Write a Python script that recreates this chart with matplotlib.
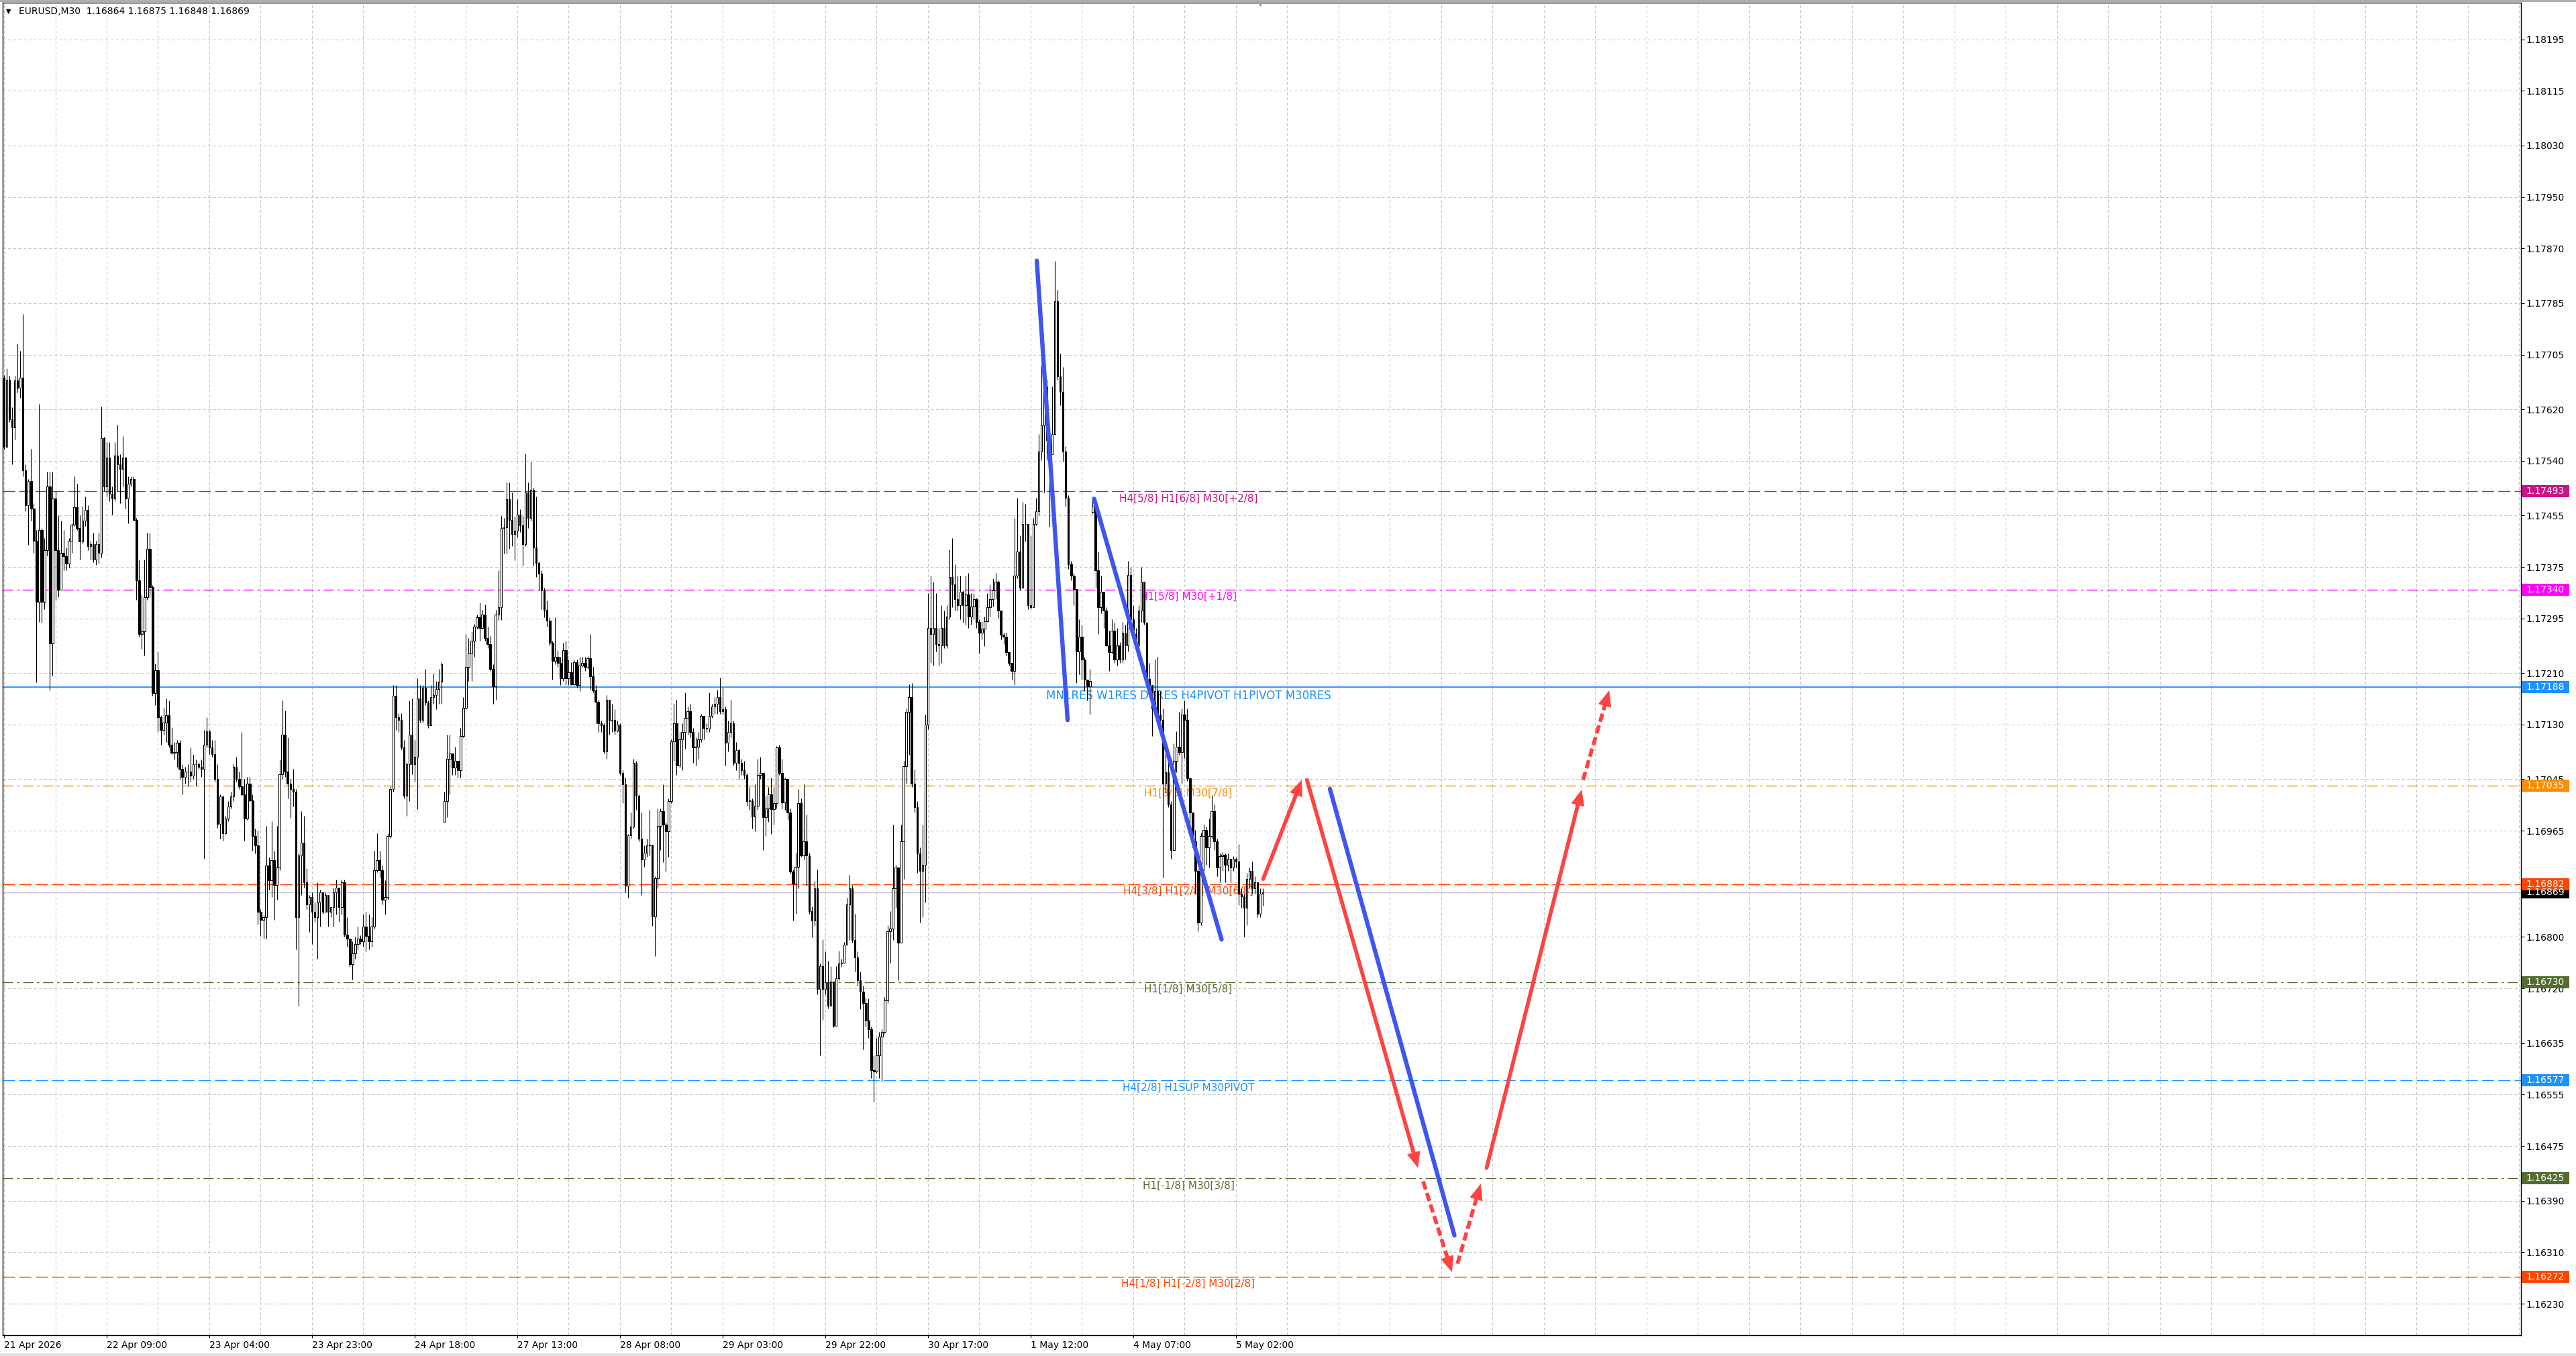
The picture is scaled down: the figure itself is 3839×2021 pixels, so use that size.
import numpy as np
import matplotlib
matplotlib.use("Agg")
import matplotlib.pyplot as plt
import matplotlib.transforms as mtransforms
from matplotlib.patches import Rectangle
from matplotlib.lines import Line2D

plt.rcParams['font.family'] = ['DejaVu Sans']
plt.rcParams['lines.scale_dashes'] = False

# prices are stored in points above BASE (1 point = 0.00001)
BASE = 1.16000
POINT = 0.00001

closes = [
    1562, 1666, 1604, 1592, 1665, 1653, 1669, 1525, 1471, 1508,
    1466, 1416, 1321, 1432, 1321, 1401, 1500, 1256, 1481, 1401,
    1340, 1397, 1392, 1380, 1416, 1441, 1468, 1435, 1415, 1447,
    1464, 1407, 1410, 1386, 1410, 1397, 1575, 1500, 1545, 1489,
    1481, 1548, 1535, 1527, 1545, 1481, 1504, 1512, 1448, 1354,
    1271, 1275, 1328, 1403, 1344, 1179, 1214, 1141, 1122, 1133,
    1145, 1099, 1086, 1087, 1102, 1061, 1049, 1057, 1057, 1051,
    1068, 1068, 1064, 1061, 1099, 1119, 1095, 1084, 1045, 976,
    1018, 961, 984, 1003, 1018, 1064, 1045, 1034, 1022, 984,
    1038, 1012, 957, 942, 839, 827, 831, 911, 888, 919,
    881, 908, 1053, 1114, 1057, 1038, 1030, 1026, 831, 927,
    946, 885, 850, 862, 839, 831, 854, 869, 839, 865,
    839, 846, 869, 877, 846, 885, 804, 797, 758, 774,
    789, 797, 793, 816, 801, 793, 816, 904, 919, 904,
    858, 862, 957, 1030, 1175, 1141, 1137, 1095, 1019, 1068,
    1114, 1068, 1080, 1171, 1137, 1187, 1164, 1129, 1173, 1176,
    1185, 1197, 1224, 1011, 1077, 1085, 1063, 1074, 1059, 1112,
    1156, 1220, 1241, 1260, 1282, 1297, 1280, 1301, 1264, 1255,
    1216, 1189, 1301, 1312, 1436, 1437, 1480, 1448, 1426, 1431,
    1456, 1440, 1410, 1491, 1451, 1495, 1405, 1381, 1365, 1339,
    1308, 1292, 1257, 1229, 1235, 1226, 1202, 1246, 1202, 1211,
    1192, 1227, 1191, 1222, 1226, 1220, 1233, 1205, 1183, 1165,
    1132, 1129, 1088, 1169, 1136, 1137, 1121, 1130, 1055, 1037,
    880, 958, 971, 1070, 1019, 953, 920, 931, 942, 943,
    832, 891, 973, 995, 975, 964, 1011, 1104, 1132, 1066,
    1107, 1118, 1140, 1151, 1118, 1094, 1096, 1107, 1143, 1125,
    1124, 1143, 1158, 1162, 1173, 1151, 1154, 1102, 1118, 1132,
    1070, 1090, 1070, 1059, 1052, 1011, 1012, 987, 1004, 1052,
    1055, 986, 1000, 1022, 999, 1008, 1094, 1055, 1009, 1045,
    993, 902, 883, 909, 1008, 927, 949, 927, 840, 825,
    876, 719, 755, 719, 730, 693, 731, 662, 736, 759,
    760, 788, 850, 876, 795, 768, 733, 715, 697, 670,
    656, 593, 591, 616, 645, 652, 701, 809, 813, 876,
    908, 791, 948, 1065, 1150, 1173, 1038, 1002, 930, 903,
    912, 1130, 1280, 1271, 1280, 1255, 1253, 1280, 1253, 1298,
    1359, 1348, 1325, 1316, 1336, 1316, 1332, 1298, 1314, 1325,
    1289, 1273, 1279, 1291, 1312, 1325, 1339, 1352, 1307, 1270,
    1267, 1243, 1226, 1213, 1361, 1399, 1343, 1442, 1442, 1316,
    1312, 1442, 1462, 1554, 1595, 1656, 1572, 1550, 1581, 1788,
    1671, 1647, 1554, 1482, 1379, 1361, 1341, 1244, 1267, 1231,
    1200, 1189, 1198, 1469, 1370, 1312, 1336, 1307, 1253, 1243,
    1276, 1231, 1253, 1231, 1273, 1253, 1363, 1294, 1271, 1253,
    1307, 1352, 1288, 1201, 1191, 1155, 1182, 1146, 1137, 1038,
    1056, 1006, 935, 1074, 1096, 1087, 1146, 1137, 1047, 993,
    948, 903, 822, 957, 966, 939, 957, 995, 948, 908,
    926, 928, 912, 921, 908, 921, 917, 867, 863, 845,
    890, 903, 876, 885, 836, 867, 869,
]

highs = [
    1673, 1684, 1672, 1623, 1672, 1722, 1711, 1768, 1535, 1512,
    1559, 1474, 1432, 1628, 1435, 1420, 1523, 1523, 1523, 1493,
    1455, 1447, 1432, 1405, 1420, 1443, 1516, 1504, 1455, 1470,
    1485, 1471, 1416, 1428, 1416, 1428, 1624, 1577, 1569, 1569,
    1500, 1569, 1596, 1550, 1578, 1546, 1516, 1516, 1516, 1451,
    1386, 1332, 1386, 1428, 1428, 1347, 1225, 1244, 1145, 1156,
    1171, 1168, 1126, 1103, 1106, 1106, 1068, 1064, 1068, 1095,
    1083, 1076, 1072, 1076, 1122, 1141, 1122, 1106, 1106, 1068,
    1022, 988, 988, 1011, 1026, 1068, 1080, 1057, 1118, 1045,
    1049, 1049, 1022, 968, 965, 843, 835, 972, 923, 980,
    934, 972, 1076, 1168, 1152, 1110, 1045, 1061, 1030, 931,
    995, 988, 907, 865, 869, 854, 885, 873, 865, 869,
    865, 846, 877, 889, 873, 889, 889, 831, 793, 793,
    800, 816, 803, 835, 839, 835, 831, 934, 961, 934,
    911, 888, 961, 1034, 1191, 1191, 1148, 1148, 1106, 1072,
    1168, 1171, 1106, 1202, 1191, 1191, 1217, 1168, 1191, 1209,
    1198, 1216, 1227, 1026, 1114, 1114, 1085, 1096, 1070, 1125,
    1173, 1271, 1264, 1275, 1286, 1301, 1320, 1308, 1317, 1282,
    1268, 1224, 1308, 1370, 1454, 1451, 1506, 1506, 1491, 1453,
    1480, 1465, 1454, 1551, 1506, 1539, 1498, 1484, 1383, 1370,
    1343, 1323, 1297, 1260, 1297, 1246, 1235, 1257, 1260, 1231,
    1227, 1231, 1231, 1235, 1235, 1235, 1236, 1271, 1220, 1191,
    1169, 1136, 1132, 1176, 1169, 1162, 1154, 1136, 1132, 1059,
    1048, 960, 993, 1077, 1074, 1022, 993, 942, 953, 997,
    898, 894, 1000, 1000, 1037, 979, 1015, 1107, 1162, 1169,
    1118, 1132, 1180, 1158, 1162, 1125, 1110, 1118, 1147, 1143,
    1132, 1180, 1162, 1173, 1184, 1203, 1187, 1158, 1136, 1169,
    1136, 1103, 1092, 1077, 1074, 1055, 1033, 1015, 1037, 1077,
    1080, 1055, 1019, 1033, 1048, 1033, 1097, 1099, 1077, 1048,
    1046, 1000, 905, 931, 1030, 1015, 1037, 990, 931, 847,
    887, 905, 759, 796, 777, 763, 755, 719, 755, 779,
    766, 792, 861, 896, 881, 836, 777, 746, 724, 706,
    704, 661, 616, 643, 652, 656, 707, 818, 840, 975,
    912, 908, 975, 1074, 1155, 1192, 1195, 1060, 1011, 939,
    975, 1146, 1334, 1361, 1352, 1334, 1280, 1316, 1307, 1316,
    1402, 1420, 1379, 1361, 1361, 1339, 1361, 1366, 1334, 1334,
    1327, 1294, 1291, 1298, 1334, 1348, 1357, 1366, 1354, 1307,
    1273, 1273, 1243, 1226, 1451, 1482, 1424, 1476, 1473, 1442,
    1424, 1451, 1482, 1581, 1689, 1698, 1666, 1595, 1656, 1851,
    1806, 1707, 1686, 1563, 1487, 1384, 1366, 1339, 1294, 1285,
    1235, 1200, 1217, 1482, 1476, 1399, 1361, 1336, 1312, 1276,
    1294, 1288, 1280, 1258, 1289, 1285, 1384, 1375, 1316, 1280,
    1316, 1375, 1352, 1285, 1226, 1191, 1231, 1235, 1182, 1155,
    1101, 1083, 1011, 1101, 1119, 1150, 1155, 1168, 1155, 1047,
    993, 966, 906, 962, 975, 971, 984, 1020, 1006, 953,
    930, 932, 930, 930, 921, 926, 923, 944, 876, 867,
    899, 908, 917, 894, 885, 876, 875,
]

lows = [
    1558, 1630, 1600, 1535, 1573, 1646, 1638, 1516, 1462, 1409,
    1447, 1397, 1196, 1290, 1288, 1309, 1393, 1183, 1206, 1324,
    1328, 1340, 1370, 1370, 1374, 1397, 1439, 1432, 1386, 1412,
    1439, 1401, 1386, 1382, 1378, 1380, 1390, 1493, 1485, 1477,
    1456, 1477, 1493, 1474, 1500, 1466, 1443, 1500, 1447, 1324,
    1267, 1248, 1237, 1324, 1328, 1175, 1160, 1118, 1099, 1114,
    1103, 1095, 1084, 1076, 1064, 1045, 1022, 1038, 1034, 1041,
    1045, 1034, 1061, 1049, 921, 1095, 1084, 1080, 1041, 969,
    953, 950, 960, 980, 1000, 1011, 1041, 1030, 1019, 950,
    982, 1010, 934, 930, 819, 801, 797, 797, 873, 862,
    827, 858, 904, 1045, 1049, 1015, 985, 1003, 781, 693,
    865, 877, 843, 808, 789, 823, 766, 816, 836, 839,
    816, 831, 816, 835, 823, 835, 800, 785, 754, 734,
    766, 781, 789, 785, 777, 781, 785, 813, 901, 892,
    850, 835, 858, 954, 1026, 1122, 1118, 1091, 1015, 988,
    1011, 1053, 1041, 999, 1133, 1133, 1160, 1125, 1132, 1162,
    1154, 1162, 1162, 979, 986, 1022, 1052, 1052, 1048, 1048,
    1110, 1154, 1198, 1198, 1235, 1279, 1260, 1279, 1260, 1249,
    1213, 1162, 1169, 1293, 1293, 1396, 1396, 1403, 1407, 1385,
    1421, 1429, 1377, 1407, 1436, 1447, 1377, 1359, 1339, 1309,
    1297, 1282, 1253, 1200, 1224, 1220, 1191, 1198, 1191, 1191,
    1191, 1191, 1187, 1182, 1220, 1213, 1216, 1184, 1180, 1132,
    1118, 1118, 1085, 1077, 1114, 1118, 1114, 1118, 1052, 1008,
    869, 861, 953, 968, 997, 949, 865, 909, 924, 927,
    817, 770, 876, 935, 916, 902, 924, 1008, 1074, 1052,
    1063, 1059, 1092, 1114, 1110, 1070, 1066, 1077, 1103, 1107,
    1118, 1118, 1140, 1147, 1147, 1147, 1147, 1066, 1088, 1110,
    1066, 1059, 1045, 1052, 1045, 1004, 997, 968, 964, 997,
    1045, 935, 957, 979, 960, 975, 1000, 1052, 1000, 997,
    982, 898, 825, 836, 876, 924, 920, 880, 836, 799,
    817, 711, 616, 671, 711, 689, 722, 660, 682, 733,
    753, 763, 788, 795, 791, 746, 724, 688, 625, 661,
    643, 580, 544, 589, 580, 575, 650, 697, 760, 795,
    845, 733, 863, 890, 1038, 1083, 1033, 993, 899, 822,
    831, 854, 1123, 1226, 1222, 1244, 1222, 1226, 1249, 1249,
    1294, 1312, 1307, 1307, 1294, 1288, 1285, 1280, 1285, 1294,
    1280, 1240, 1262, 1252, 1289, 1298, 1314, 1325, 1296, 1262,
    1255, 1237, 1222, 1200, 1191, 1357, 1339, 1343, 1415, 1309,
    1309, 1312, 1440, 1455, 1541, 1491, 1541, 1438, 1559, 1617,
    1666, 1626, 1539, 1469, 1372, 1354, 1316, 1195, 1208, 1200,
    1182, 1168, 1146, 1458, 1343, 1271, 1303, 1280, 1252, 1213,
    1240, 1226, 1222, 1226, 1226, 1231, 1244, 1289, 1262, 1252,
    1244, 1289, 1285, 1195, 1173, 1112, 1150, 1141, 1119, 892,
    1024, 1002, 921, 935, 1056, 1083, 1038, 1078, 1042, 957,
    939, 867, 809, 818, 903, 912, 908, 953, 935, 894,
    885, 903, 885, 903, 885, 903, 908, 849, 845, 800,
    818, 876, 867, 867, 831, 831, 848,
]

# bars whose open is not the previous close (first bar, weekend gaps)
gap_opens = {0: 1669, 163: 979, 403: 1460}

time_labels = ['21 Apr 2026', '22 Apr 09:00', '23 Apr 04:00', '23 Apr 23:00',
               '24 Apr 18:00', '27 Apr 13:00', '28 Apr 08:00', '29 Apr 03:00',
               '29 Apr 22:00', '30 Apr 17:00', '1 May 12:00', '4 May 07:00',
               '5 May 02:00']
time_tick_bars = [0, 38, 76, 114, 152, 190, 228, 266, 304, 342, 380, 418, 456]

price_ticks = [1.18195, 1.18115, 1.18030, 1.17950, 1.17870, 1.17785, 1.17705,
               1.17620, 1.17540, 1.17455, 1.17375, 1.17295, 1.17210, 1.17130,
               1.17045, 1.16965, 1.16880, 1.16800, 1.16720, 1.16635, 1.16555,
               1.16475, 1.16390, 1.16310, 1.16230]

levels = [1.17493, 1.17340, 1.17188, 1.17035, 1.16882, 1.16730, 1.16577, 1.16425, 1.16272]
level_names = ['H4[5/8] H1[6/8] M30[+2/8]', 'H1[5/8] M30[+1/8]',
               'MN1RES W1RES D1RES H4PIVOT H1PIVOT M30RES', 'H1[3/8] M30[7/8]',
               'H4[3/8] H1[2/8] M30[6/8]', 'H1[1/8] M30[5/8]',
               'H4[2/8] H1SUP M30PIVOT', 'H1[-1/8] M30[3/8]', 'H4[1/8] H1[-2/8] M30[2/8]']
level_colors = ['#C71585', '#FF00FF', '#1E90FF', '#FF8C00', '#FF4500',
                '#556B2F', '#1E90FF', '#556B2F', '#FF4500']
level_styles = ['dash', 'dashdot', 'solid', 'dashdot', 'dash',
                'dashdot', 'dash', 'dashdot', 'dash']

bid_price = 1.16869
title_text = 'EURUSD,M30  1.16864 1.16875 1.16848 1.16869'

# hand drawn objects: (bar, price) end points
trend_lines = [((382.3, 1.17851), (393.7, 1.17137)),
               ((403.5, 1.17481), (450.7, 1.16796)),
               ((490.8, 1.17030), (536.9, 1.16336))]
forecast_arrows = [((466.1, 1.16890), (480.4, 1.17044), False),
                   ((482.3, 1.17044), (523.4, 1.16441), False),
                   ((525.3, 1.16420), (536.0, 1.16279), True),
                   ((538.0, 1.16292), (546.6, 1.16416), True),
                   ((548.8, 1.16441), (584.0, 1.17029), False),
                   ((584.5, 1.17044), (594.2, 1.17183), True)]

W, H = 3839, 2021
BLUE = '#3F55F2'
RED = '#FF4242'
LINE_STYLES = {'dash': (0, (13, 4.5)), 'dashdot': (0, (11, 4, 2.5, 4)), 'solid': '-'}

fig = plt.figure(figsize=(W / 100, H / 100), dpi=100, facecolor='white')
ax = fig.add_axes([4 / W, 1 - 1990 / H, 3753 / W, 1986 / H])
ax.set_xlim(-0.5, 931.7)
ax.set_ylim(1.16181, 1.18252)
ax.set_facecolor('white')

# grid
ax.set_xticks(np.arange(0, 932, 19), minor=True)
ax.set_xticks(time_tick_bars)
ax.set_xticklabels(time_labels, ha='left')
ax.set_yticks(price_ticks, labels=['%.5f' % p for p in price_ticks])
ax.grid(True, axis='both', which='major', color='#c4c4c4', linestyle=(0, (3, 2.5)), linewidth=0.75)
ax.grid(True, axis='x', which='minor', color='#c4c4c4', linestyle=(0, (3, 2.5)), linewidth=0.75)
ax.yaxis.tick_right()
ax.tick_params(axis='x', which='minor', length=0)
ax.tick_params(axis='x', which='major', length=3, width=0.8, pad=3, labelsize=10, colors='black')
ax.tick_params(axis='y', length=3.5, width=0.8, pad=2, labelsize=10, colors='black')
for sp in ax.spines.values():
    sp.set_color('black')
    sp.set_linewidth(1.0)

# candles
n = min(len(closes), len(highs), len(lows))
x = np.arange(n)
c = BASE + np.array(closes[:n]) * POINT
o = BASE + np.array([gap_opens.get(i, closes[i - 1]) for i in range(n)]) * POINT
hi = np.maximum(BASE + np.array(highs[:n]) * POINT, np.maximum(o, c))
lo = np.minimum(BASE + np.array(lows[:n]) * POINT, np.minimum(o, c))
up = c >= o
ax.vlines(x, lo, hi, color='black', linewidth=0.8, zorder=3)
ax.bar(x, np.abs(c - o), bottom=np.minimum(o, c), width=0.62,
       color=np.where(up, 'white', 'black'), edgecolor='black', linewidth=0.75, zorder=3.1)

# levels
blend = mtransforms.blended_transform_factory(ax.transAxes, ax.transData)
tag_h = 18 / 95880.0
ax.axhline(bid_price, color='#c0c0c0', linewidth=1.0, zorder=1.9)
ax.add_patch(Rectangle((1.0003, bid_price - tag_h / 2), 0.0189, tag_h, transform=blend,
                       facecolor='black', edgecolor='none', clip_on=False, zorder=10))
ax.text(1.0021, bid_price, '%.5f' % bid_price, transform=blend, color='white', fontsize=10,
        ha='left', va='center', clip_on=False, zorder=11)

for price, name, col, style in zip(levels, level_names, level_colors, level_styles):
    ax.axhline(price, color=col, linewidth=1.3 if style == 'solid' else 1.0,
               linestyle=LINE_STYLES[style], zorder=2)
    ax.annotate(name, xy=(438.4, price), xytext=(0, -2.5), textcoords='offset points',
                ha='center', va='top', color=col, fontsize=12 if 'MN1' in name else 11, zorder=2.2)
    ax.add_patch(Rectangle((1.0003, price - tag_h / 2), 0.0189, tag_h, transform=blend,
                           facecolor=col, edgecolor='none', clip_on=False, zorder=10))
    ax.text(1.0021, price, '%.5f' % price, transform=blend, color='white', fontsize=10,
            ha='left', va='center', clip_on=False, zorder=11)

# trend lines
for p0, p1 in trend_lines:
    ax.plot([p0[0], p1[0]], [p0[1], p1[1]], color=BLUE, linewidth=4.6,
            solid_capstyle='round', zorder=6)


def draw_arrow(p0, p1, dashed):
    a = ax.transData.transform(p0)
    b = ax.transData.transform(p1)
    u = (b - a) / np.hypot(*(b - a))
    inv = ax.transData.inverted()
    shaft_end = inv.transform(b - u * 14)
    head_base = inv.transform(b - u * 22)
    ax.plot([p0[0], shaft_end[0]], [p0[1], shaft_end[1]], color=RED, linewidth=4.1,
            linestyle=(0, (9, 4)) if dashed else '-', solid_capstyle='round',
            dash_capstyle='butt', zorder=6)
    ax.annotate('', xy=p1, xytext=(head_base[0], head_base[1]),
                arrowprops=dict(arrowstyle='-|>,head_length=0.45,head_width=0.19',
                                mutation_scale=36, color=RED, linewidth=0.5,
                                shrinkA=0, shrinkB=0), zorder=6)


for p0, p1, dashed in forecast_arrows:
    draw_arrow(p0, p1, dashed)

# chart shift marker at the top
top_blend = mtransforms.blended_transform_factory(ax.transData, ax.transAxes)
ax.plot([465], [0.999], marker='v', markersize=5, color='#a0a0a0', transform=top_blend,
        clip_on=False, zorder=12)

# title
fig.text(13 / W, 1 - 17 / H, '\u25bc', fontsize=7, ha='center', va='center', color='black')
fig.text(28 / W, 1 - 17 / H, title_text, fontsize=10, ha='left', va='center', color='black')

# window edges
fig.add_artist(Line2D([0, 1], [1 - 1 / H, 1 - 1 / H], color='#a8a8a8', linewidth=2))
fig.add_artist(Line2D([0, 1], [2 / H, 2 / H], color='#e0e0e0', linewidth=3))

fig.savefig('out.png', dpi=100, facecolor='white')
